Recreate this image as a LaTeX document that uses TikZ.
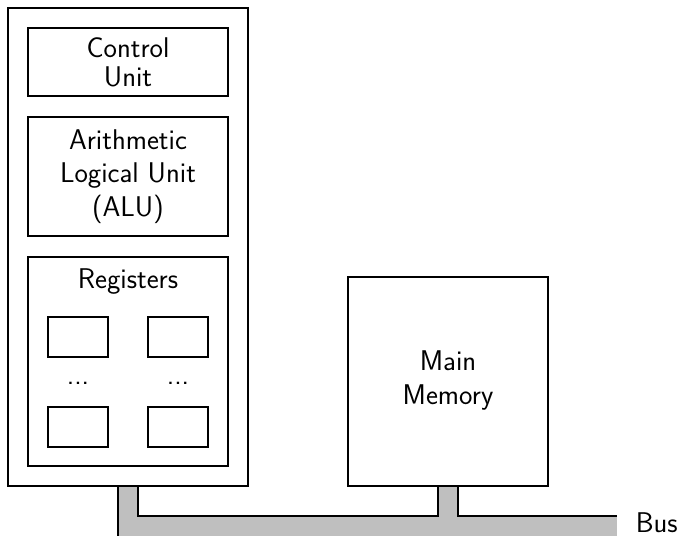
\documentclass[tikz,border=0pt]{standalone}
\usepackage{fontspec}
\usetikzlibrary{positioning}
\begin{document}
\begin{tikzpicture}[x=1pt,y=-1pt,line width=1.6pt,
  box/.style={draw=black,inner sep=0pt},
  txt/.style={align=center,font=\sffamily\fontsize{28.5}{33.5}\selectfont,inner sep=0pt},
  busfill/.style={fill=black!25,draw=none}]
\useasboundingbox (0,0) rectangle (681,536);
% bus fill
\fill[busfill] (118,486) rectangle (138,546);
\fill[busfill] (118,516) rectangle (617,546);
\fill[busfill] (438,486) rectangle (458,516);
% boxes
\node[box,fill=white,minimum width=240pt,minimum height=478pt] (cpu) at (128,247) {};
\node[box,minimum width=200pt,minimum height=68pt] (cu) at (128,62) {};
\node[txt,font=\sffamily\fontsize{28.5}{29}\selectfont] (cut) at (128,62) {Control\\Unit};
\node[box,minimum width=200pt,minimum height=119pt] (alu) at (128,176.5) {};
\node[txt] (alut) at (128,176.5) {Arithmetic\\Logical Unit\\(ALU)};
\node[box,minimum width=200pt,minimum height=209pt] (reg) at (128,361.5) {};
\node[txt] (regl) at (128,282) {Registers};
\node[box,minimum width=60pt,minimum height=40pt] (r1) at (78,337) {};
\node[box,minimum width=60pt,minimum height=40pt] (r2) at (178,337) {};
\node[box,minimum width=60pt,minimum height=40pt] (r3) at (78,427) {};
\node[box,minimum width=60pt,minimum height=40pt] (r4) at (178,427) {};
\node[txt,anchor=base] (d1) at (78,384) {...};
\node[txt,anchor=base] (d2) at (178,384) {...};
\node[box,minimum width=200pt,minimum height=209pt] (mem) at (448,381.5) {};
\node[txt] (memt) at (448,380.7) {Main\\Memory};
% bus outline
\coordinate (b0) at (118,546);
\coordinate (b1) at (138,516);
\coordinate (b2) at (438,516);
\coordinate (b3) at (458,516);
\coordinate (bend) at (617,516);
\draw (b0) -- (cpu.south -| b0);
\draw (cpu.south -| b1) -- (b1) -- (b2) -- (mem.south -| b2);
\draw (mem.south -| b3) -- (b3) -- (bend);
\node[txt,anchor=west] (bus) at (635,523) {Bus};
\end{tikzpicture}
\end{document}
